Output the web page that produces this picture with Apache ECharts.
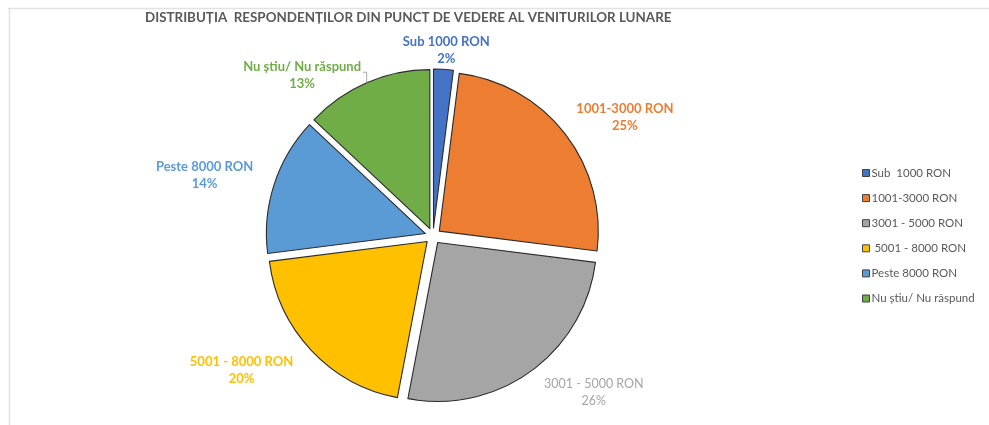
<!DOCTYPE html>
<html>
<head>
<meta charset="utf-8">
<script src="https://cdn.jsdelivr.net/npm/echarts@6/dist/echarts.min.js"></script>
<style>
html,body{margin:0;padding:0;background:#fff;}
#c{width:989px;height:425px;}
</style>
</head>
<body>
<div id="c"></div>
<script>
var titleText = 'DISTRIBUȚIA  RESPONDENȚILOR DIN PUNCT DE VEDERE AL VENITURILOR LUNARE';
var categories = ['Sub 1000 RON', '1001-3000 RON', '3001 - 5000 RON', '5001 - 8000 RON', 'Peste 8000 RON', 'Nu știu/ Nu răspund'];
var legendLabels = ['Sub  1000 RON', '1001-3000 RON', '3001 - 5000 RON', ' 5001 - 8000 RON', 'Peste 8000 RON', 'Nu știu/ Nu răspund'];
var values = [2, 25, 26, 20, 14, 13];

var colors = ['#4472C4', '#ED7D31', '#A5A5A5', '#FFC000', '#5B9BD5', '#70AD47'];
var labelBold = [true, true, false, true, true, true];
var labelNudge = [[-4, -2], [-6, 1], [0, 4], [-2, 3], [0, 1], [-9, 10]];
var leaderLine = [false, false, false, false, false, true];
var OFFSET = 8, HGAP = 22, LH = 17;
var FONT = 'Lato, "Open Sans", sans-serif';

var chart = echarts.init(document.getElementById('c'), null, {renderer: 'canvas'});

var data = categories.map(function (c, i) {
  return {
    name: legendLabels[i],
    value: values[i],
    selected: true,
    itemStyle: {color: colors[i]}
  };
});

var baseGraphic = [
  {type: 'line', shape: {x1: 8, y1: 8.5, x2: 989, y2: 8.5}, style: {stroke: '#e2e2e2', lineWidth: 1.5}},
  {type: 'line', shape: {x1: 9.5, y1: 8, x2: 9.5, y2: 425}, style: {stroke: '#e2e2e2', lineWidth: 1.5}}
];

var option = {
  animation: false,
  backgroundColor: '#fff',
  title: {
    text: titleText,
    left: 140, top: 6,
    textStyle: {fontFamily: FONT, fontSize: 13.4, fontWeight: 'bold', color: '#595959'}
  },
  legend: {
    orient: 'vertical',
    left: 857, top: 162,
    itemWidth: 7, itemHeight: 7, itemGap: 13.1,
    icon: 'rect',
    itemStyle: {borderColor: '#404040', borderWidth: 1},
    textStyle: {fontFamily: FONT, fontSize: 11.5, color: '#595959', padding: [0, 0, 0, -3]},
    data: legendLabels
  },
  graphic: baseGraphic,
  series: [{
    type: 'pie',
    center: [433, 236],
    radius: 159,
    startAngle: 90,
    clockwise: true,
    selectedMode: 'multiple',
    selectedOffset: OFFSET,
    itemStyle: {borderColor: '#2b2b2b', borderWidth: 1.1},
    select: {itemStyle: {borderColor: '#2b2b2b', borderWidth: 1.1}},
    label: {show: false},
    labelLine: {show: false},
    emphasis: {disabled: true},
    data: data
  }]
};
chart.setOption(option);

// Data labels positioned from the library's pie layout
var sd = chart.getModel().getSeriesByIndex(0).getData();
var total = values.reduce(function (a, b) { return a + b; }, 0);
var ctx = document.createElement('canvas').getContext('2d');
var labelGraphic = [];
function clamp(v) { return Math.max(-1, Math.min(1, v)); }
for (var i = 0; i < values.length; i++) {
  var L = sd.getItemLayout(i);
  var mid = (L.startAngle + L.endAngle) / 2;
  var dx = Math.cos(mid), dy = Math.sin(mid);
  var rr = L.r + OFFSET;
  var ax = L.cx + dx * rr, ay = L.cy + dy * rr;
  var size = labelBold[i] ? 13 : 12.5;
  var font = (labelBold[i] ? 'bold ' : 'normal ') + size + 'px ' + FONT;
  var line1 = categories[i], line2 = Math.round(values[i] / total * 100) + '%';
  ctx.font = font;
  var w = Math.max(ctx.measureText(line1).width, ctx.measureText(line2).width);
  var h = 2 * LH;
  var lx = ax + dx * HGAP + clamp(2 * dx) * w / 2 + labelNudge[i][0];
  var ly = ay + clamp(2 * dy) * h / 2 + labelNudge[i][1];
  labelGraphic.push({
    type: 'text', x: lx, y: ly, z: 100,
    style: {text: line1 + '\n' + line2, font: font, fill: colors[i], align: 'center', verticalAlign: 'middle', lineHeight: LH}
  });
  if (leaderLine[i]) {
    var w1 = ctx.measureText(line1).width;
    var sx = lx + w1 / 2 + 2, sy = ly - LH / 2 + 5;
    labelGraphic.push({
      type: 'polyline', z: 100,
      shape: {points: [[sx, sy], [ax, sy], [ax, ay]]},
      style: {stroke: '#a6a6a6', lineWidth: 1, fill: null}
    });
  }
}
chart.setOption({graphic: baseGraphic.concat(labelGraphic)});
</script>
</body>
</html>
